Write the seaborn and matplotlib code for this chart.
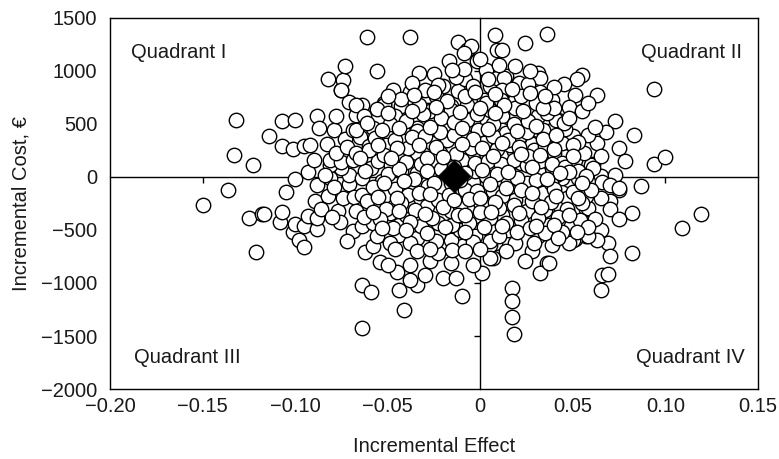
import numpy as np
import pandas as pd
import seaborn as sns
import matplotlib.pyplot as plt

# ---- data (incremental effect, incremental cost) ----
left_pts = [
    (-0.150, -262), (-0.136, -118), (-0.132, 534), (-0.133, 210), (-0.123, 116), (-0.125, -384),
    (-0.118, -349), (-0.121, -708), (-0.108, -428), (-0.107, -334), (-0.105, -141), (-0.100, -15),
    (-0.101, -519), (-0.098, -592), (-0.095, -661), (-0.100, -443), (-0.095, -466), (-0.093, -372),
    (-0.088, -491), (-0.088, -387), (-0.093, 47), (-0.088, -79), (-0.089, -224), (-0.082, -183),
    (-0.081, -10), (-0.077, -324), (-0.076, -428), (-0.074, -198), (-0.071, -66), (-0.069, -513),
    (-0.068, -192), (-0.071, 22), (-0.075, 85), (-0.081, 115), (-0.114, 390), (-0.107, 525),
    (-0.100, 541), (-0.107, 289), (-0.101, 264), (-0.095, 289), (-0.092, 305), (-0.090, 163),
    (-0.088, 572), (-0.087, 462), (-0.079, 446), (-0.073, 358), (-0.069, 446), (-0.081, 163),
    (-0.075, 138), (-0.084, 20), (-0.079, -90), (-0.083, 310), (-0.078, 230), (-0.072, 280),
    (-0.069, 160), (-0.065, 380), (-0.086, -300), (-0.080, -380), (-0.072, -600), (-0.064, -460),
    (-0.117, -346),
]

upper_pts = [
    (-0.082, 925), (-0.078, 572), (-0.075, 817), (-0.074, 911), (-0.073, 1043), (-0.071, 704),
    (-0.075, 823), (-0.064, 682), (-0.067, 588), (-0.061, 1321), (-0.038, 1321), (-0.056, 996),
    (-0.033, 981), (-0.025, 972), (-0.017, 1091), (-0.012, 1270), (-0.007, 1201), (-0.005, 1232),
    (-0.002, 1091), (0.003, 1012), (0.008, 1342), (0.009, 1201), (-0.047, 823), (-0.038, 798),
    (-0.037, 887), (-0.028, 729), (-0.020, 855), (-0.012, 808), (-0.008, 925), (0.002, 729),
    (0.005, 855), (-0.067, 682), (-0.052, 698), (-0.043, 666), (-0.046, 572), (-0.028, 635),
    (-0.024, 760), (-0.016, 666), (-0.007, 682), (-0.063, 572), (-0.058, 462), (-0.051, 399),
    (-0.041, 415), (-0.034, 462), (-0.026, 541), (-0.018, 478), (-0.011, 541), (-0.007, 541),
    (-0.001, 446), (0.005, 635), (-0.060, 289), (-0.051, 305), (-0.042, 336), (-0.034, 430),
    (-0.026, 320), (-0.018, 345), (-0.008, 383), (0.002, 320), (-0.067, 226), (-0.045, 194),
    (-0.034, 226), (-0.022, 226), (0.003, 226), (-0.009, 1170), (-0.052, 675), (-0.027, 619),
    (-0.016, 635), (0.003, 698), (0.011, 745), (0.014, 950), (0.009, 934), (-0.067, 446),
]

right_pts = [
    (0.024, 1264), (0.036, 1351), (0.012, 1201), (0.019, 1043), (0.013, 934), (0.021, 887),
    (0.031, 981), (0.032, 934), (0.032, 798), (0.055, 965), (0.052, 925), (0.063, 776),
    (0.051, 776), (0.039, 729), (0.012, 823), (0.019, 729), (0.048, 660), (0.055, 619),
    (0.073, 525), (0.083, 399), (0.075, 274), (0.063, 320), (0.058, 399), (0.051, 274),
    (0.061, 125), (0.042, 541), (0.039, 446), (0.031, 572), (0.031, 446), (0.028, 314),
    (0.038, 194), (0.021, 377), (0.018, 242), (0.012, 572), (0.012, 446), (0.019, 651),
    (0.045, 194), (0.051, 163), (0.046, 383), (0.094, 830), (0.094, 125), (0.100, 188),
    (0.087, -82), (0.075, -126), (0.065, 6), (0.073, 22), (0.041, 541), (0.034, 446),
    (0.050, 383), (0.040, 226), (0.029, 258), (0.022, 132), (0.031, 69), (0.044, 132),
    (0.048, -25), (0.053, -9), (0.060, 116), (0.066, -51), (0.014, 415), (0.011, 729),
    (0.065, 200), (0.068, 420), (0.078, 150), (0.062, 470), (0.045, 880), (0.058, 700),
]

lower_pts = [
    (0.082, -340), (0.119, -349), (0.109, -481), (0.082, -717), (0.070, -230), (0.069, -623),
    (0.070, -742), (0.066, -922), (0.069, -915), (0.065, -1063), (0.057, -302), (0.065, -497),
    (0.057, -554), (0.063, -592), (0.048, -607), (0.051, -585), (0.039, -639), (0.036, -811),
    (0.032, -906), (0.028, -701), (0.024, -796), (0.017, -1047), (0.017, -1174), (0.017, -1321),
    (0.018, -1478), (0.065, -198), (0.058, -293), (0.058, -560), (0.050, -592), (0.048, -623),
    (0.037, -811), (0.031, -560), (0.037, -450), (0.019, -623), (0.015, -497), (0.008, -623),
    (0.007, -764), (0.049, -466), (0.043, -277), (0.047, -198), (0.057, -183), (0.035, -308),
    (0.025, -324), (0.012, -356), (0.005, -497), (0.019, -214), (0.034, -151), (0.044, -9),
    (0.061, 85), (0.070, -73), (0.025, -57), (0.015, -41), (0.031, 53), (0.015, 85),
    (0.041, 22), (0.005, -639), (0.075, -104), (0.070, -300), (0.075, -400), (0.062, -400),
    (-0.064, -1425), (-0.041, -1258), (-0.064, -1023), (-0.059, -1089), (-0.044, -1070),
    (-0.010, -1126), (0.001, -906), (-0.062, -708), (-0.054, -802), (-0.045, -896),
    (-0.034, -1016), (-0.030, -922), (-0.020, -953), (-0.013, -953), (-0.016, -811),
    (-0.027, -796), (-0.038, -827), (-0.050, -827), (-0.058, -655), (-0.052, -544),
    (-0.044, -544), (-0.030, -639), (-0.023, -717), (-0.010, -655), (-0.004, -827),
    (0.005, -764), (0.005, -607), (-0.003, -560), (-0.016, -592), (-0.011, -497),
    (-0.023, -544), (-0.034, -576), (-0.044, -450), (-0.058, -434), (-0.067, -324),
    (-0.057, -261), (-0.049, -340), (-0.040, -356), (-0.032, -466), (-0.023, -434),
    (-0.015, -450), (-0.003, -372), (0.005, -387), (0.003, -261), (-0.007, -293),
    (-0.016, -324), (-0.029, -277), (-0.039, -261), (-0.052, -183), (-0.064, -167),
    (-0.064, -9), (-0.053, -41), (-0.043, 53), (-0.039, -167), (-0.028, -88), (-0.023, -214),
    (-0.011, -277), (-0.008, -120), (-0.002, -136), (0.003, 6), (0.007, -136), (-0.003, 53),
    (-0.027, 53), (-0.016, -57), (-0.034, 38), (-0.059, 85), (-0.038, -969),
]

core_pts = [
    (-0.055, 150), (-0.048, 110), (-0.040, 140), (-0.032, 120), (-0.025, 150), (-0.018, 110),
    (-0.010, 160), (-0.003, 130), (0.004, 150), (0.011, 120), (0.018, 160), (0.025, 110),
    (0.032, 150), (0.039, 120), (0.046, 90), (0.053, 60), (-0.062, 60), (-0.050, 30),
    (-0.036, -20), (-0.021, 80), (-0.008, 40), (0.009, 30), (0.020, -10), (0.030, -30),
    (0.038, -60), (0.048, 50), (0.057, 10), (-0.058, -90), (-0.046, -110), (-0.033, -150),
    (-0.017, -170), (-0.006, -210), (0.012, -180), (0.022, -120), (0.040, -110), (0.050, -140),
    (0.060, -120), (-0.061, -230), (-0.051, -300), (-0.043, -250), (-0.035, -310), (-0.020, -280),
    (-0.012, -360), (0.000, -330), (0.010, -290), (0.018, -260), (0.028, -230), (0.038, -240),
    (0.047, -300), (0.055, -250), (-0.063, -380), (-0.054, -400), (-0.047, -480), (-0.038, -420),
    (-0.026, -390), (-0.019, -470), (-0.006, -430), (0.002, -470), (0.014, -430), (0.022, -410),
    (0.031, -390), (0.042, -380), (0.054, -410), (-0.056, -560), (-0.049, -620), (-0.038, -620),
    (-0.034, -700), (-0.024, -600), (-0.015, -690), (-0.004, -610), (0.010, -560), (0.020, -520),
    (0.027, -480), (0.035, -530), (0.044, -520), (0.058, -470), (-0.060, 250), (-0.052, 210),
    (-0.039, 270), (-0.029, 180), (-0.013, 220), (-0.005, 270), (0.009, 260), (0.016, 300),
    (0.026, 200), (0.035, 290), (0.044, 320), (0.056, 230), (-0.057, 370), (-0.046, 350),
    (-0.037, 380), (-0.030, 390), (-0.022, 420), (-0.014, 400), (-0.004, 360), (0.007, 390),
    (0.015, 350), (0.025, 420), (0.034, 360), (0.046, 450), (0.053, 330), (-0.061, 510),
    (-0.049, 500), (-0.040, 530), (-0.031, 590), (-0.021, 560), (-0.014, 520), (-0.002, 590),
    (0.007, 500), (0.018, 500), (0.026, 530), (0.036, 600), (0.045, 510), (-0.056, 640),
    (-0.043, 740), (-0.033, 680), (-0.018, 720), (-0.008, 760), (0.000, 650), (0.013, 680),
    (0.022, 760), (0.030, 700), (0.040, 650), (-0.023, 870), (-0.013, 940), (-0.004, 860),
    (0.004, 920), (0.017, 830), (0.026, 880), (-0.030, 820), (0.000, 1110), (0.010, 1060),
    (-0.009, 1020), (0.027, 1000), (0.040, 850), (-0.015, 1010),
]

core_extra_pts = [
    (-0.044, 80), (-0.029, 60), (-0.014, 90), (0.001, 70), (0.015, 50), (0.028, 90), (0.043, 40),
    (-0.052, -60), (-0.041, -40), (-0.025, -60), (-0.011, -30), (0.005, -70), (0.014, -100),
    (0.036, -20), (0.055, -60), (-0.055, -190), (-0.045, -200), (-0.027, -160), (-0.014, -220),
    (0.000, -200), (0.008, -240), (0.028, -150), (0.041, -180), (0.053, -200), (-0.058, -330),
    (-0.044, -320), (-0.030, -350), (-0.008, -360), (0.006, -330), (0.021, -340), (0.033, -280),
    (0.048, -360), (-0.053, -480), (-0.040, -500), (-0.029, -530), (-0.008, -520), (0.012, -460),
    (0.030, -460), (0.040, -450), (0.052, -520), (-0.046, -680), (-0.027, -680), (-0.008, -700),
    (0.000, -680), (0.014, -700), (0.029, -620), (0.042, -580), (-0.055, 300), (-0.045, 270),
    (-0.033, 300), (-0.024, 280), (-0.010, 310), (0.001, 270), (0.012, 320), (0.021, 280),
    (0.040, 260), (0.050, 300), (-0.053, 440), (-0.044, 460), (-0.027, 470), (-0.010, 460),
    (0.004, 450), (0.020, 430), (0.030, 480), (0.041, 400), (-0.050, 600), (-0.037, 620),
    (-0.024, 660), (-0.011, 610), (0.008, 600), (0.023, 620), (0.034, 650), (0.048, 560),
    (-0.050, 760), (-0.036, 770), (-0.025, 800), (-0.003, 800), (0.008, 780), (0.027, 790),
    (0.035, 760), (-0.065, 180), (-0.048, 180), (-0.020, 190), (0.007, 200), (0.022, 220),
    (0.032, 210), (0.050, 200),
]

mean_effect = [-0.014]
mean_cost = [5]

x_ticks = [-0.20, -0.15, -0.10, -0.05, 0.0, 0.05, 0.10, 0.15]
x_tick_labels = ["\u22120.20", "\u22120.15", "\u22120.10", "\u22120.05", "0", "0.05", "0.10", "0.15"]
y_ticks = [-2000, -1500, -1000, -500, 0, 500, 1000, 1500]
y_tick_labels = ["\u22122000", "\u22121500", "\u22121000", "\u2212500", "0", "500", "1000", "1500"]
quadrant_labels = ["Quadrant I", "Quadrant II", "Quadrant III", "Quadrant IV"]

# ---- figure ----
sns.set_style("white")
plt.rcParams["font.family"] = ["Liberation Sans", "DejaVu Sans"]
plt.rcParams["axes.unicode_minus"] = True

all_pts = left_pts + upper_pts + right_pts + lower_pts + core_pts + core_extra_pts
df = pd.DataFrame(all_pts, columns=["effect", "cost"])

fig = plt.figure(figsize=(7.79, 4.59), dpi=100)
ax = fig.add_axes([0.1412, 0.1525, 0.8318, 0.8083])

sns.scatterplot(data=df, x="effect", y="cost", ax=ax, marker="o", s=108,
                color="white", edgecolor="black", linewidth=1.0, zorder=3, legend=False)
sns.scatterplot(x=mean_effect, y=mean_cost, ax=ax, marker="D", s=280,
                color="black", edgecolor="black", linewidth=0.5, zorder=4, legend=False)

ax.set_xlim(-0.20, 0.15)
ax.set_ylim(-2000, 1500)
ax.set_xticks(x_ticks, x_tick_labels)
ax.set_yticks(y_ticks, y_tick_labels)
ax.tick_params(axis="both", length=0, labelsize=14.5, colors="#1a1a1a")
ax.tick_params(axis="x", pad=6)
ax.tick_params(axis="y", pad=9)
for sp in ax.spines.values():
    sp.set_visible(True)
    sp.set_color("black")
    sp.set_linewidth(1.0)

ax.set_xlabel("Incremental Effect", fontsize=14.5, color="#1a1a1a")
ax.set_ylabel("Incremental Cost, \u20ac", fontsize=14.5, color="#1a1a1a")
ax.xaxis.set_label_coords(0.5, -0.13)
ax.yaxis.set_label_coords(-0.122, 0.5)

# zero lines with tick marks
sx = ax.secondary_xaxis(0, transform=ax.transData)
sx.set_xticks(x_ticks[1:-1])
sx.set_xticklabels([])
sx.tick_params(direction="out", length=4, width=1, color="black")
for sp in sx.spines.values():
    sp.set_linewidth(1.0)
    sp.set_color("black")

sy = ax.secondary_yaxis(0, transform=ax.transData)
sy.set_yticks(y_ticks[1:-1])
sy.set_yticklabels([])
sy.tick_params(direction="out", length=4, width=1, color="black")
for sp in sy.spines.values():
    sp.set_linewidth(1.0)
    sp.set_color("black")

tkw = dict(transform=ax.transAxes, fontsize=14.5, va="center", color="#1a1a1a")
ax.text(0.032, 0.908, quadrant_labels[0], ha="left", **tkw)
ax.text(0.976, 0.908, quadrant_labels[1], ha="right", **tkw)
ax.text(0.037, 0.084, quadrant_labels[2], ha="left", **tkw)
ax.text(0.980, 0.084, quadrant_labels[3], ha="right", **tkw)

fig.savefig("out.png", dpi=100)
